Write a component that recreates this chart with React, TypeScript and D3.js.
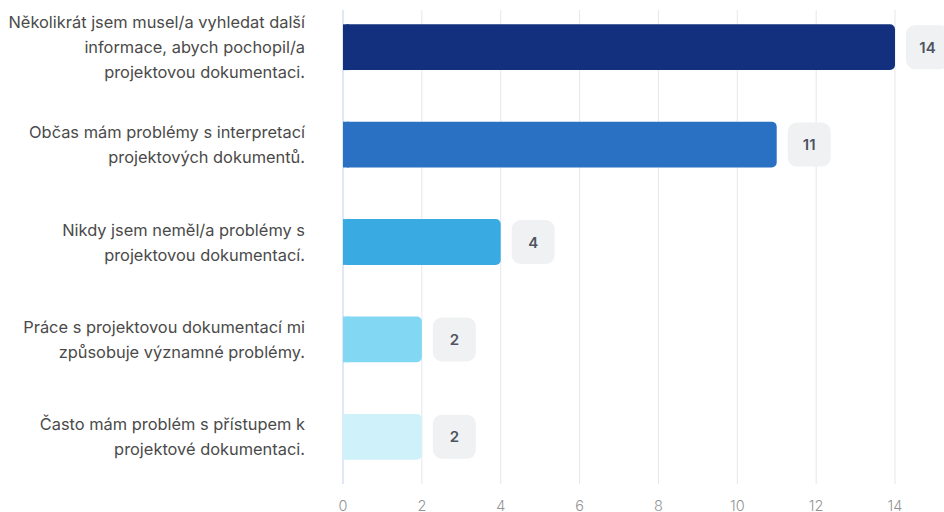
import React from "react";
import * as d3 from "d3";

const categories: string[][] = [
  ["Několikrát jsem musel/a vyhledat další", "informace, abych pochopil/a", "projektovou dokumentaci."],
  ["Občas mám problémy s interpretací", "projektových dokumentů."],
  ["Nikdy jsem neměl/a problémy s", "projektovou dokumentací."],
  ["Práce s projektovou dokumentací mi", "způsobuje významné problémy."],
  ["Často mám problém s přístupem k", "projektové dokumentaci."],
];
const values: number[] = [14, 11, 4, 2, 2];
const colors: string[] = ["#13307f", "#2a71c4", "#3aaae2", "#82d8f2", "#cff1fa"];
const tickValues: number[] = [0, 2, 4, 6, 8, 10, 12, 14];

const W = 944;
const H = 512;
const left = 343;
const right = 895;
const gridTop = 10;
const gridBottom = 484;

export default function App() {
  const x = d3.scaleLinear().domain([0, 14]).range([left, right]);
  const y = d3
    .scaleBand<number>()
    .domain(d3.range(values.length))
    .range([-1.5, 485.5])
    .paddingInner(0.53)
    .paddingOuter(0.265);
  const bw = y.bandwidth();
  const font = "Inter, 'Noto Sans', sans-serif";
  const lineH = 25;

  return (
    <svg
      width={W}
      height={H}
      style={{ position: "absolute", left: 0, top: 0, background: "#fff" }}
      fontFamily={font}
    >
      {tickValues.slice(1).map((t) => (
        <line key={t} x1={x(t)} x2={x(t)} y1={gridTop} y2={gridBottom} stroke="#e4e7ec" strokeWidth={1} />
      ))}
      <line x1={x(0)} x2={x(0)} y1={gridTop} y2={gridBottom} stroke="#c9d9f0" strokeWidth={1.2} />
      {values.map((v, i) => {
        const y0 = y(i)!;
        const cy = y0 + bw / 2;
        const bx = x(v) + 11;
        const lines = categories[i];
        return (
          <g key={i}>
            <rect
              x={x(0)}
              y={y0}
              width={x(v) - x(0)}
              height={bw}
              rx={5}
              fill={colors[i]}
            />
            <rect x={x(0)} y={y0} width={6} height={bw} fill={colors[i]} />
            <rect x={bx} y={cy - 22} width={43} height={44} rx={9} fill="#f0f1f2" />
            <text
              x={bx + 21.5}
              y={cy}
              textAnchor="middle"
              dominantBaseline="central"
              fontSize={15}
              fontWeight={600}
              fill="#4d5461"
            >
              {v}
            </text>
            {lines.map((ln, j) => (
              <text
                key={j}
                x={305}
                y={cy + (j - (lines.length - 1) / 2) * lineH}
                textAnchor="end"
                dominantBaseline="central"
                fontSize={16.4}
                fill="#4a4a4a"
              >
                {ln}
              </text>
            ))}
          </g>
        );
      })}
      {tickValues.map((t) => (
        <text
          key={t}
          x={x(t)}
          y={505}
          textAnchor="middle"
          dominantBaseline="central"
          fontSize={14.5}
          fontWeight={300}
          fill="#939393"
        >
          {t}
        </text>
      ))}
    </svg>
  );
}
